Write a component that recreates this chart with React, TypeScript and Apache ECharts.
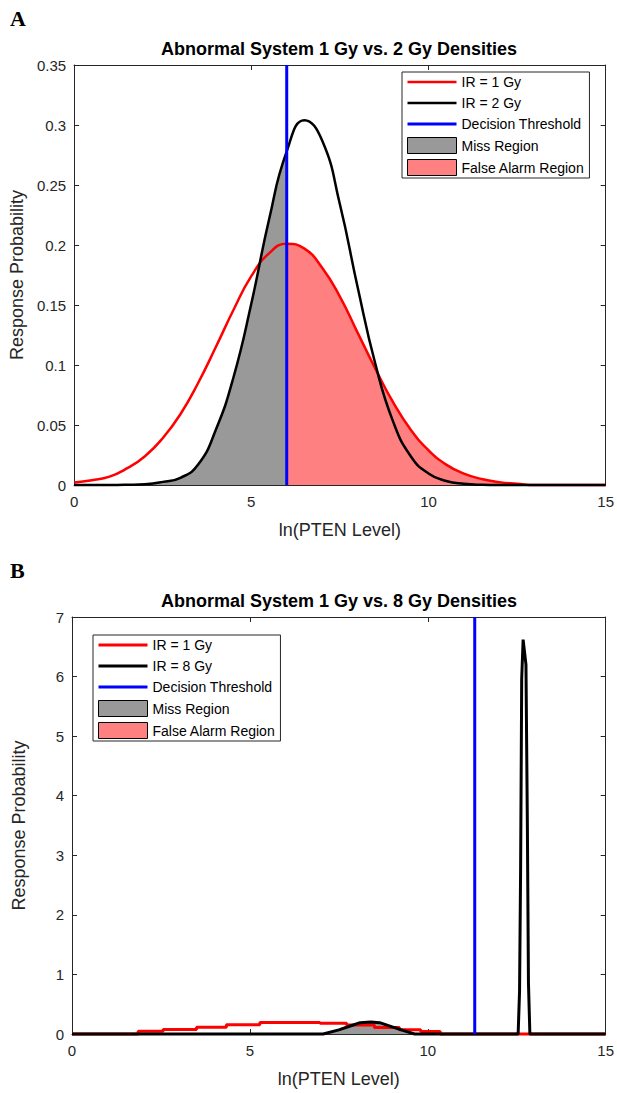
import { useEffect, useRef } from "react";
import * as echarts from "echarts";

// ---------- data ----------
const X_TICKS = [0, 5, 10, 15];
const Y_TICKS_A = [0, 0.05, 0.1, 0.15, 0.2, 0.25, 0.3, 0.35];
const Y_TICKS_B = [0, 1, 2, 3, 4, 5, 6, 7];

const X_A = [0, 0.5, 1, 1.5, 2, 2.5, 3, 3.5, 4, 4.5, 5, 5.5, 6, 6.5, 7, 7.5, 8, 8.5, 9, 9.5, 10, 10.5, 11, 11.5, 12, 12.5, 13, 13.5, 14, 14.5, 15];
const RED_A = [0.002, 0.004, 0.007, 0.014, 0.024, 0.039, 0.059, 0.085, 0.115, 0.146, 0.174, 0.193, 0.201, 0.197, 0.181, 0.157, 0.127, 0.097, 0.069, 0.046, 0.029, 0.017, 0.0095, 0.005, 0.0024, 0.0011, 0, 0, 0, 0, 0];
const BLACK_A = [0, 0, 0, 0.0002, 0.0007, 0.0026, 0.006, 0.017, 0.046, 0.09, 0.151, 0.221, 0.278, 0.304, 0.287, 0.234, 0.165, 0.101, 0.053, 0.024, 0.0096, 0.0033, 0.001, 0.0002, 0, 0, 0, 0, 0, 0, 0];
const THRESHOLD_A = 6.0;

const RED_B: [number, number][] = [[0, 0], [1.86, 0.045], [2.56, 0.075], [3.5, 0.115], [4.34, 0.155], [5.28, 0.195], [6.97, 0.18], [7.72, 0.15], [8.5, 0.11], [9.2, 0.07], [9.8, 0.04], [10.35, 0], [15, 0]];
const BLACK_B: [number, number][] = [[0, 0], [7.06, 0], [7.5, 0.07], [7.8, 0.13], [8.1, 0.19], [8.4, 0.2], [8.65, 0.19], [9.0, 0.12], [9.3, 0.06], [9.63, 0], [12.54, 0], [12.58, 0.72], [12.61, 2.8], [12.64, 5.96], [12.68, 6.62], [12.76, 6.2], [12.8, 3.45], [12.83, 0.86], [12.87, 0], [15, 0]];
const THRESHOLD_B = 11.32;

const TITLE_A = "Abnormal System 1 Gy vs. 2 Gy Densities";
const TITLE_B = "Abnormal System 1 Gy vs. 8 Gy Densities";
const NAMES_A = ["IR = 1 Gy", "IR = 2 Gy", "Decision Threshold", "Miss Region", "False Alarm Region"];
const NAMES_B = ["IR = 1 Gy", "IR = 8 Gy", "Decision Threshold", "Miss Region", "False Alarm Region"];
const X_NAME = "ln(PTEN Level)";
const Y_NAME = "Response Probability";

// ---------- style ----------
const AXIS_COLOR = "#262626";
const FONT = '"Liberation Sans", Arial, Helvetica, sans-serif';
const RED = "#ff0000";
const BLACK = "#000000";
const BLUE = "#0000ff";
const GRAY = "#999999";
const PINK = "#ff8080";

function linePath(w: number) {
  const a = (16 - w) / 2;
  return `path://M0,0H49V0.01H0Z M0,${a}H49V${a + w}H0Z M0,15.99H49V16H0Z`;
}

interface PanelCfg {
  letter: string;
  title: string;
  names: string[];
  red: [number, number][];
  black: [number, number][];
  threshold: number;
  yTicks: number[];
  lineW: number;
  smooth: boolean;
  redStep: false | "end";
  legendLeft: number;
  legendTop: number;
}

function buildOption(c: PanelCfg) {
  const yMin = c.yTicks[0];
  const yMax = c.yTicks[c.yTicks.length - 1];
  const yStep = c.yTicks[1] - c.yTicks[0];
  const xMin = X_TICKS[0];
  const xMax = X_TICKS[X_TICKS.length - 1];
  const xStep = X_TICKS[1] - X_TICKS[0];
  const miss = c.black.filter((p) => p[0] <= c.threshold);
  const fa = c.red.filter((p) => p[0] >= c.threshold);

  const axisLine = { show: true, onZero: false, lineStyle: { color: AXIS_COLOR, width: 1 } };
  const axisTick = { show: true, inside: true, length: 5, lineStyle: { color: AXIS_COLOR, width: 1 } };
  const label = { fontSize: 15, color: AXIS_COLOR, fontFamily: FONT };

  return {
    animation: false,
    backgroundColor: "#ffffff",
    title: {
      text: c.title,
      left: 339,
      top: 40,
      padding: 0,
      textAlign: "center",
      textStyle: { fontSize: 18, fontWeight: "bold", color: "#000", fontFamily: FONT },
    },
    graphic: [
      {
        type: "text",
        left: 10,
        top: 7,
        style: { text: c.letter, font: 'bold 22px "Liberation Serif", "Times New Roman", serif', fill: "#000" },
      },
    ],
    legend: {
      orient: "vertical",
      left: c.legendLeft,
      top: c.legendTop,
      align: "left",
      backgroundColor: "#ffffff",
      borderColor: AXIS_COLOR,
      borderWidth: 1,
      padding: [2, 5, 2, 5],
      itemGap: 5,
      itemWidth: 49,
      itemHeight: 16,
      selectedMode: false,
      textStyle: { fontSize: 14, color: "#000", fontFamily: FONT },
      data: [
        { name: c.names[0], icon: linePath(c.lineW), itemStyle: { color: RED, borderWidth: 0 } },
        { name: c.names[1], icon: linePath(c.lineW), itemStyle: { color: BLACK, borderWidth: 0 } },
        { name: c.names[2], icon: linePath(3), itemStyle: { color: BLUE, borderWidth: 0 } },
        { name: c.names[3], icon: "rect", itemStyle: { color: GRAY, borderColor: "#000", borderWidth: 1 } },
        { name: c.names[4], icon: "rect", itemStyle: { color: PINK, borderColor: "#000", borderWidth: 1 } },
      ],
    },
    grid: { left: 72, top: 65, width: 534, height: 420, containLabel: false },
    xAxis: [
      {
        type: "value", position: "bottom", min: xMin, max: xMax, interval: xStep,
        name: X_NAME, nameLocation: "middle", nameGap: 36,
        nameTextStyle: { fontSize: 18, color: AXIS_COLOR, fontFamily: FONT },
        axisLine, axisTick, axisLabel: { ...label, margin: 9 }, splitLine: { show: false },
      },
      {
        type: "value", position: "top", min: xMin, max: xMax, interval: xStep,
        axisLine, axisTick, axisLabel: { show: false }, splitLine: { show: false },
      },
    ],
    yAxis: [
      {
        type: "value", position: "left", min: yMin, max: yMax, interval: yStep,
        name: Y_NAME, nameLocation: "middle", nameGap: 44,
        nameTextStyle: { fontSize: 18, color: AXIS_COLOR, fontFamily: FONT },
        axisLine, axisTick, axisLabel: { ...label, margin: 8 }, splitLine: { show: false },
      },
      {
        type: "value", position: "right", min: yMin, max: yMax, interval: yStep,
        axisLine, axisTick, axisLabel: { show: false }, splitLine: { show: false },
      },
    ],
    series: [
      {
        name: c.names[3], type: "line", data: miss, xAxisIndex: 0, yAxisIndex: 0,
        symbol: "none", showSymbol: false, smooth: c.smooth, silent: true,
        itemStyle: { color: GRAY }, lineStyle: { width: 0, opacity: 0 },
        areaStyle: { color: GRAY, opacity: 1 }, z: 2,
      },
      {
        name: c.names[4], type: "line", data: fa, xAxisIndex: 0, yAxisIndex: 0,
        symbol: "none", showSymbol: false, smooth: c.smooth, step: c.redStep, silent: true,
        itemStyle: { color: PINK }, lineStyle: { width: 0, opacity: 0 },
        areaStyle: { color: PINK, opacity: 1 }, z: 2,
      },
      {
        name: c.names[0], type: "line", data: c.red, xAxisIndex: 0, yAxisIndex: 0,
        symbol: "none", showSymbol: false, smooth: c.redStep ? false : c.smooth, step: c.redStep, silent: true,
        clip: false,
        itemStyle: { color: RED }, lineStyle: { color: RED, width: c.lineW }, z: 3,
      },
      {
        name: c.names[1], type: "line", data: c.black, xAxisIndex: 0, yAxisIndex: 0,
        symbol: "none", showSymbol: false, smooth: c.smooth, silent: true,
        clip: false,
        itemStyle: { color: BLACK }, lineStyle: { color: BLACK, width: c.lineW }, z: 4,
      },
      {
        name: c.names[2], type: "line", data: [[c.threshold, yMin], [c.threshold, yMax]], xAxisIndex: 0, yAxisIndex: 0,
        symbol: "none", showSymbol: false, silent: true,
        itemStyle: { color: BLUE }, lineStyle: { color: BLUE, width: 3 }, z: 5,
      },
    ],
  };
}

const zip = (xs: number[], ys: number[]): [number, number][] => xs.map((x, i) => [x, ys[i]]);

const PANEL_A: PanelCfg = {
  letter: "A", title: TITLE_A, names: NAMES_A,
  red: zip(X_A, RED_A), black: zip(X_A, BLACK_A), threshold: THRESHOLD_A,
  yTicks: Y_TICKS_A, lineW: 2.5, smooth: true, redStep: false,
  legendLeft: 402, legendTop: 72,
};
const PANEL_B: PanelCfg = {
  letter: "B", title: TITLE_B, names: NAMES_B,
  red: RED_B, black: BLACK_B, threshold: THRESHOLD_B,
  yTicks: Y_TICKS_B, lineW: 3, smooth: false, redStep: "end",
  legendLeft: 93, legendTop: 83,
};

function Panel({ cfg, top, height }: { cfg: PanelCfg; top: number; height: number }) {
  const ref = useRef<HTMLDivElement>(null);
  useEffect(() => {
    if (!ref.current) return;
    const chart = echarts.init(ref.current, undefined, { renderer: "svg" });
    chart.setOption(buildOption(cfg) as any);
    return () => chart.dispose();
  }, [cfg]);
  return <div ref={ref} style={{ position: "absolute", left: 0, top, width: 617, height }} />;
}

export default function App() {
  return (
    <div style={{ position: "absolute", left: 0, top: 0, width: 617, height: 1093, background: "#fff" }}>
      <Panel cfg={PANEL_A} top={0} height={552} />
      <Panel cfg={PANEL_B} top={552} height={541} />
    </div>
  );
}
